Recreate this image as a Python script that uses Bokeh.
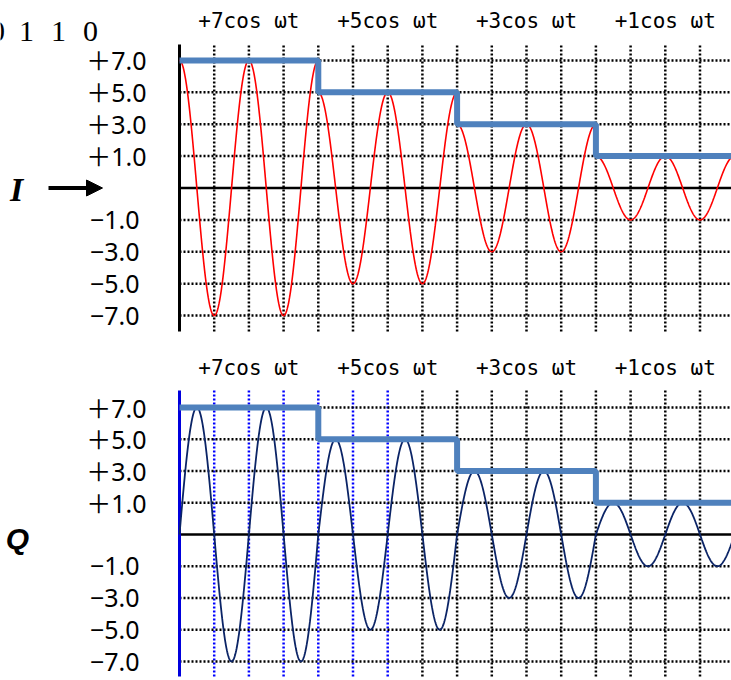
import numpy as np
from bokeh.plotting import figure
from bokeh.models import Arrow, NormalHead
from bokeh.core.properties import value
from bokeh.layouts import column
from bokeh.embed import file_html
from bokeh.resources import INLINE

# ---- data ----
levels = [7, 5, 3, 1]                      # amplitude of each symbol
segment_labels = ["+7cos ωt", "+5cos ωt", "+3cos ωt", "+1cos ωt"]
tick_values = [7, 5, 3, 1, -1, -3, -5, -7]
tick_labels = ["＋7.0", "＋5.0", "＋3.0", "＋1.0", "−1.0", "−3.0", "−5.0", "−7.0"]
bits = ["0", "1", "1", "0"]
cells_per_symbol = 4                       # grid cells per symbol
cells_per_cycle = 2                        # grid cells per carrier cycle


def to_row(v):
    """Map a level value (±1, ±3, ±5, ±7) onto the equally spaced grid rows."""
    v = np.asarray(v, dtype=float)
    return np.sign(v) * (np.abs(v) + 1) / 2


rows = to_row(tick_values)
amp_rows = to_row(levels)
bounds = cells_per_symbol * np.arange(len(levels) + 1)
n_sym = len(levels)
centers = (bounds[:-1] + bounds[1:]) / 2

# ---- layout (cell units: one grid cell = 34.7 px) ----
CELL = 34.7
X0 = 179.0
W = 731
X_RANGE = (-X0 / CELL, (W - X0) / CELL)
X_END = X_RANGE[1] + 0.5
FONT_TICK = "'Noto Sans', 'Noto Sans CJK JP'"
FONT_SEG = "DejaVu Sans Mono"
DOT = "2 2"


def cx(px):
    return (px - X0) / CELL


def make_panel(height, zero_px, row_px, y_lo, y_hi, axis_color, blue_cols):
    p = figure(width=W, height=height, x_range=X_RANGE,
               y_range=(-(height - zero_px) / row_px, zero_px / row_px),
               output_backend="svg", toolbar_location=None,
               min_border=0, x_axis_type=None, y_axis_type=None)
    p.outline_line_color = None
    p.background_fill_color = "white"
    p.grid.visible = False
    cols = np.arange(1, 17)
    col_colors = ["#0000FF" if c in blue_cols else "black" for c in cols]
    n_c = len(cols)
    # dotted vertical grid lines
    p.segment(x0=cols, y0=[y_lo] * n_c, x1=cols, y1=[y_hi] * n_c,
              line_color=col_colors, line_dash=DOT, line_width=2.5)
    # dotted horizontal grid lines
    n_r = len(rows)
    p.segment(x0=[0] * n_r, y0=rows, x1=[X_END] * n_r, y1=rows,
              line_color="black", line_dash=DOT, line_width=2.5)
    # zero line and axis line
    p.segment(x0=[0], y0=[0], x1=[X_END], y1=[0],
              line_color="black", line_width=2.5)
    p.segment(x0=[0], y0=[y_lo], x1=[0], y1=[y_hi],
              line_color=axis_color, line_width=3)
    lab_x = [cx(146) if v > 0 else cx(139) for v in tick_values]
    p.text(x=lab_x, y=rows, text=tick_labels, text_align="right",
           text_baseline="middle", text_font=value(FONT_TICK),
           text_font_size=value("25px"), text_color="black")
    return p


def seg_x(i):
    return np.linspace(bounds[i], bounds[i + 1], 300)


# ---- I panel ----
p1 = make_panel(340, 187.5, 31.9, -4.5, 4.5, "black", [])
xs_i = [seg_x(i) for i in range(n_sym)]
ys_i = [amp_rows[i] * np.cos(2 * np.pi * xs_i[i] / cells_per_cycle)
        for i in range(n_sym)]
p1.multi_line(xs=xs_i, ys=ys_i, line_color="#FF0000", line_width=1.6)
p1.step(x=bounds, y=to_row(levels + [levels[-1]]), mode="after",
        line_color="#4F81BD", line_width=6)
p1.text(x=centers, y=[(187.5 - 20) / 31.9] * n_sym, text=segment_labels,
        text_align="center", text_baseline="middle",
        text_font=value(FONT_SEG), text_font_size=value("21px"),
        text_color="black")
bit_x = [cx(-3), cx(26), cx(58), cx(90)]
p1.text(x=bit_x, y=[(187.5 - 31) / 31.9] * len(bits), text=bits,
        text_align="center", text_baseline="middle",
        text_font=value("Liberation Serif"), text_font_size=value("30px"),
        text_color="black")
p1.text(x=[cx(16)], y=[-0.06], text=["I"], text_align="center",
        text_baseline="middle", text_font=value("Liberation Serif"),
        text_font_style="bold italic", text_font_size=value("34px"),
        text_color="black")
p1.add_layout(Arrow(x_start=cx(48), y_start=0, x_end=cx(102), y_end=0,
                    line_color="black", line_width=4,
                    end=NormalHead(size=16, fill_color="black",
                                   line_color="black")))

# ---- Q panel ----
p2 = make_panel(340, 194.0, 31.75, -4.47, 4.535, "#0000DD",
                [1, 2, 3, 4, 5, 6])
xq = np.concatenate([seg_x(i) for i in range(n_sym)])
aq = np.concatenate([np.full(300, amp_rows[i]) for i in range(n_sym)])
yq = aq * np.sin(2 * np.pi * xq / cells_per_cycle)
p2.line(xq, yq, line_color="#0B2466", line_width=1.8)
p2.step(x=bounds, y=to_row(levels + [levels[-1]]), mode="after",
        line_color="#4F81BD", line_width=6)
p2.text(x=centers, y=[(534 - 367) / 31.75] * n_sym, text=segment_labels,
        text_align="center", text_baseline="middle",
        text_font=value(FONT_SEG), text_font_size=value("21px"),
        text_color="black")
p2.text(x=[cx(17)], y=[-0.13], text=["Q"], text_align="center",
        text_baseline="middle", text_font=value("Liberation Sans"),
        text_font_style="bold italic", text_font_size=value("30px"),
        text_color="black")

layout = column(p1, p2, spacing=0)
open("out.html", "w").write(file_html(layout, INLINE))
